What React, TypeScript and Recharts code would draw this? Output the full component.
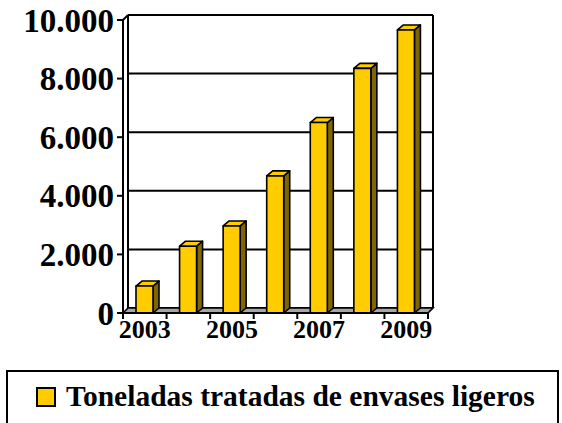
import React from 'react';
import { BarChart, Bar, XAxis, YAxis, CartesianGrid, ReferenceArea, Legend } from 'recharts';

const years = ['2003', '2004', '2005', '2006', '2007', '2008', '2009'];
const tons = [920, 2280, 2970, 4680, 6500, 8350, 9660];
const yTicks = [0, 2000, 4000, 6000, 8000, 10000];
const seriesName = 'Toneladas tratadas de envases ligeros';

const data = years.map((y, i) => ({ year: y, value: tons[i] }));

const W = 562;
const H = 423;
const M = { top: 20, right: 134, bottom: 80, left: 13 };
const Y_AXIS_W = 110;
const X_AXIS_H = 30;
const DX = 5;
const DY = 5;
const BDX = 6;
const BDY = 5;
const FONT = '"Liberation Serif", "Times New Roman", serif';
const FRONT = '#FFCC00';
const SIDE = '#806600';
const plotW = W - M.left - M.right - Y_AXIS_W;
const band = plotW / years.length;

const fmt = (v: number) => String(v).replace(/\B(?=(\d{3})+(?!\d))/g, '.');

const Bar3D = (p: any) => {
  const { x, y, width: w, height: h } = p;
  if (!h || h <= 0) return null;
  return (
    <g stroke="#000" strokeWidth={1.6} strokeLinejoin="round">
      <polygon points={`${x + w},${y} ${x + w + BDX},${y - BDY} ${x + w + BDX},${y + h - BDY} ${x + w},${y + h}`} fill={SIDE} />
      <polygon points={`${x},${y} ${x + BDX},${y - BDY} ${x + w + BDX},${y - BDY} ${x + w},${y}`} fill={FRONT} />
      <rect x={x} y={y} width={w} height={h} fill={FRONT} />
    </g>
  );
};

const Walls = (p: any) => {
  const { x, y, width: w, height: h } = p;
  const b = y + h;
  return (
    <g>
      <polygon points={`${x},${b} ${x + w},${b} ${x + w + DX},${b - DY} ${x + DX},${b - DY}`} fill="#A6A6A6" stroke="#000" strokeWidth={1.6} />
      <line x1={x + DX} y1={y - DY} x2={x + DX} y2={b - DY} stroke="#000" strokeWidth={2} />
      <line x1={x + w + DX} y1={y - DY} x2={x + w + DX} y2={b - DY} stroke="#000" strokeWidth={2} />
      <line x1={x} y1={y} x2={x + DX} y2={y - DY} stroke="#000" strokeWidth={2} />
    </g>
  );
};

const GridLine = (p: any) => (
  <line key={p.key} x1={p.x1 + DX} y1={p.y1 - DY} x2={p.x2 + DX} y2={p.y2 - DY} stroke="#000" strokeWidth={2} />
);

const XTick = (p: any) => {
  const { x, y, index, payload } = p;
  const left = x - band / 2;
  return (
    <g>
      <line x1={left} y1={y} x2={left} y2={y + 6} stroke="#000" strokeWidth={2} />
      {index === years.length - 1 && (
        <line x1={x + band / 2} y1={y} x2={x + band / 2} y2={y + 6} stroke="#000" strokeWidth={2} />
      )}
      {index % 2 === 0 && (
        <text
          x={x}
          y={y + 25}
          textAnchor="middle"
          fill="#000"
          style={{ fontFamily: FONT, fontWeight: 'bold', fontSize: 26 }}
        >
          {payload.value}
        </text>
      )}
    </g>
  );
};

const YTick = (p: any) => {
  const { x, y, payload } = p;
  return (
    <text
      x={x}
      y={y}
      dy="0.35em"
      textAnchor="end"
      fill="#000"
      style={{ fontFamily: FONT, fontWeight: 'bold', fontSize: 33 }}
    >
      {fmt(payload.value)}
    </text>
  );
};

const LegendBox = (props: any) => {
  const item = (props.payload && props.payload[0]) || { value: seriesName, color: FRONT };
  return (
    <div
      style={{
        boxSizing: 'border-box',
        width: 553,
        height: 60,
        border: '2px solid #000',
        background: '#fff',
        position: 'relative',
      }}
    >
      <span
        style={{
          position: 'absolute',
          left: 28,
          top: 15,
          width: 20,
          height: 20,
          boxSizing: 'border-box',
          border: '2px solid #000',
          background: item.color,
        }}
      />
      <span
        style={{
          position: 'absolute',
          left: 58,
          top: 8,
          fontFamily: FONT,
          fontWeight: 'bold',
          fontSize: 29.5,
          color: '#000',
          whiteSpace: 'nowrap',
          lineHeight: 'normal',
        }}
      >
        {item.value}
      </span>
    </div>
  );
};

export default function App() {
  return (
    <div style={{ position: 'absolute', left: 0, top: 0, width: W, height: H, background: '#fff' }}>
      <BarChart width={W} height={H} data={data} margin={M} barSize={17}>
        <CartesianGrid vertical={false} horizontal={GridLine} />
        <ReferenceArea y1={0} y2={10000} ifOverflow="visible" shape={Walls} />
        <XAxis
          dataKey="year"
          height={X_AXIS_H}
          interval={0}
          tickLine={false}
          tickSize={0}
          tickMargin={0}
          axisLine={{ stroke: '#000', strokeWidth: 2 }}
          tick={XTick}
        />
        <YAxis
          width={Y_AXIS_W}
          domain={[0, 10000]}
          ticks={yTicks}
          tickSize={6}
          tickMargin={3}
          interval={0}
          axisLine={{ stroke: '#000', strokeWidth: 2 }}
          tickLine={{ stroke: '#000', strokeWidth: 2 }}
          tick={YTick}
        />
        <Legend
          layout="horizontal"
          verticalAlign="middle"
          align="center"
          wrapperStyle={{ left: 6, top: 370, width: 553, height: 60 }}
          content={LegendBox}
        />
        <Bar dataKey="value" name={seriesName} fill={FRONT} isAnimationActive={false} shape={Bar3D} />
      </BarChart>
    </div>
  );
}
